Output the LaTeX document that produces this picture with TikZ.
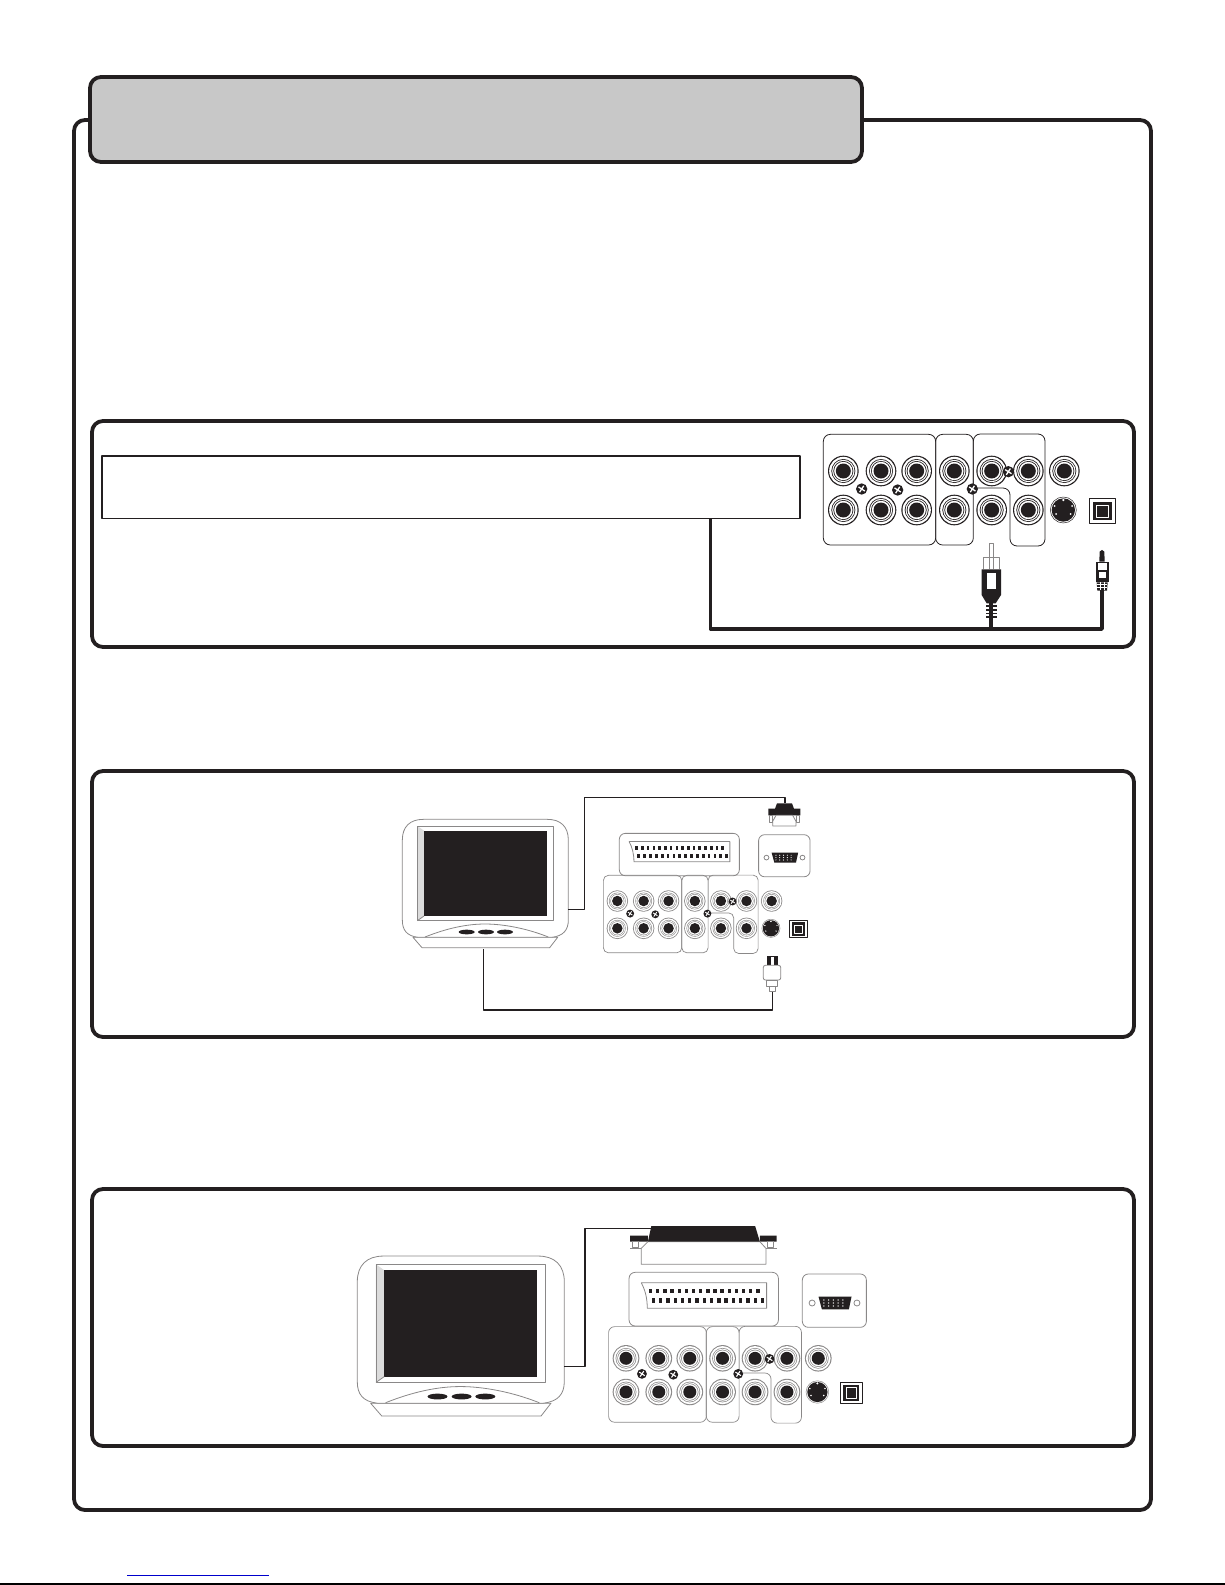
\documentclass[tikz,border=0pt]{standalone}
\definecolor{ink}{HTML}{231F20}
\definecolor{tabgrey}{HTML}{C8C8C8}
\definecolor{softline}{HTML}{8A8888}
\definecolor{paleband}{HTML}{DCDCDC}
\definecolor{linkblue}{HTML}{0000CC}
\tikzset{
  frameline/.style={draw=ink,line width=3.8pt,rounded corners=11pt},
  cable/.style={draw=ink,line width=1.3pt},
  heavycable/.style={draw=ink,line width=3.4pt},
  softedge/.style={draw=softline,line width=0.8pt}
}
% #1 ring colour, #2 outline colour, #3 corner radius, #4 outline width, #5 screw cross width
\newcommand{\jackcluster}[5]{%
  \draw[#2,line width=#4,rounded corners=#3] (70,73) rectangle (407,405);
  \draw[#2,line width=#4,rounded corners=#3] (407,73) rectangle (520,405);
  \draw[#2,line width=#4,rounded corners=#3] (520,237) -- (520,72) -- (735,72) -- (735,408) -- (630,408) -- (630,234) -- (520,234);
  \foreach \jx/\jy in {130/183,243/183,350/183,463/183,575/183,685/183,793/183,130/300,243/300,350/300,463/300,575/300,685/300}{
    \fill[#1] (\jx,\jy) circle (46);
    \fill[white] (\jx,\jy) circle (42.5);
    \fill[#1] (\jx,\jy) circle (36);
    \fill[white] (\jx,\jy) circle (33.5);
    \fill[#1] (\jx,\jy) circle (30);
    \fill[white] (\jx,\jy) circle (27.5);
    \fill[ink] (\jx,\jy) circle (22.5);
  }
  \foreach \sx/\sy in {185/237,293/240,517/237,625/185}{
    \fill[ink] (\sx,\sy) circle (17);
    \draw[white,line width=#5,rotate around={12:(\sx,\sy)}] (\sx-8,\sy-8) -- (\sx+8,\sy+8) (\sx-8,\sy+8) -- (\sx+8,\sy-8);
  }
  \draw[#1,line width=0.5pt] (790,300) circle (39);
  \fill[ink] (790,300) circle (35);
  \fill[white] (790,270) circle (4) (764,288) circle (3) (816,288) circle (3) (768,312) circle (3) (812,312) circle (3);
  \draw[ink,line width=0.8pt,fill=white] (868,265) rectangle (946,340);
  \fill[ink] (879,275) rectangle (935,331);
  \draw[white,line width=0.6pt] (889,285) rectangle (925,321);
}
\newcommand{\scartvga}{%
  \draw[softedge,rounded corners=6pt] (824,187) rectangle (1267,348);
  \draw[softedge,rounded corners=6pt] (1338,192) rectangle (1528,352);
  \draw[softedge] (860,218) -- (1232,218) -- (1232,295) -- (878,295) .. controls (878,265) and (872,240) .. (860,218);
  \foreach \i in {0,...,15}{
    \fill[ink] ({883+\i*21.2},236) rectangle ++(10,14);
    \fill[ink] ({891+\i*21.6},265) rectangle ++(10,14);
  }
  \fill[ink] (1386,260) -- (1484,260) -- (1476,298) -- (1396,298) -- cycle;
  \foreach \i in {0,...,4}{
    \fill[white] ({1402+\i*14},270) circle (2.2);
    \fill[white] ({1402+\i*14},279) circle (2.2);
    \fill[white] ({1402+\i*14},288) circle (2.2);
  }
  \draw[softedge] (1367,279) circle (9) (1500,279) circle (9);
}
\newcommand{\monitorset}{%
  \draw[softedge,fill=white] (69,472) -- (96,503) -- (479,503) -- (503,472) -- cycle;
  \draw[softedge,fill=white] (37,420) -- (37,180) .. controls (37,140) and (60,118) .. (100,118) -- (472,118) .. controls (512,118) and (535,140) .. (535,180) -- (535,420) .. controls (535,450) and (520,468) .. (485,472) -- (85,472) .. controls (50,468) and (37,450) .. (37,420) -- cycle;
  \draw[softedge] (105,471) .. controls (170,445) and (230,432) .. (285,432) .. controls (340,432) and (410,445) .. (475,471);
  \fill[paleband] (82,138) -- (102,152) -- (102,408) -- (82,422) -- cycle;
  \draw[softedge] (82,138) rectangle (490,422);
  \fill[ink] (102,152) rectangle (470,408);
  \draw[softedge] (82,422) -- (102,408);
  \fill[ink] (230,456) ellipse (24 and 7) (288,456) ellipse (24 and 7) (345,456) ellipse (24 and 7);
}
\begin{document}
\begin{tikzpicture}[x=1pt,y=-1pt,line join=round]
\useasboundingbox (0,0) rectangle (1225,1585);
% outer frame and title tab
\draw[frameline] (74,120) rectangle (1151,1510);
\draw[frameline,fill=tabgrey] (90,77) rectangle (862,162);
% panels
\draw[frameline] (92,421) rectangle (1134,647);
\draw[frameline] (92,771) rectangle (1134,1037);
\draw[frameline] (92,1189) rectangle (1134,1446);
\draw[ink,line width=1.6pt] (102,456) rectangle (800,518.5);

% ---------- panel 1 ----------
\begin{scope}[shift={(800,410)},x=0.33333pt,y=-0.33333pt]
  \jackcluster{ink}{ink}{7pt}{0.8pt}{1.3pt}
  \coordinate (rcaEnd) at (573,625);
  \coordinate (optEnd) at (906,540);
  \coordinate (busRight) at (906,657);
  \coordinate (busJoin) at (573,657);
  % RCA plug
  \draw[softedge,fill=white] (567,440) -- (567,400) -- (581,400) -- (581,440);
  \draw[softedge] (550,478) -- (550,442) -- (598,442) -- (598,478) (567,440) -- (567,478) (581,440) -- (581,478);
  \fill[ink] (545,478) -- (603,478) -- (603,555) -- (587,580) -- (560,580) -- (545,555) -- cycle;
  \fill[white] (562,488) rectangle (587,537);
  \fill[ink] (567,580) rectangle (580,625);
  \foreach \ry in {586,597,608,619}{\fill[ink] (557,\ry) rectangle (590,\ry+5);}
  % optical plug
  \fill[ink] (898,455) -- (899,425) .. controls (901,418) and (911,418) .. (913,425) -- (914,455) -- cycle;
  \fill[ink] (887,455) rectangle (927,517);
  \fill[white] (895,458) rectangle (920,480);
  \fill[white] (897,485) rectangle (917,505);
  \fill[ink] (890,517) -- (923,517) -- (921,542) -- (892,542) -- cycle;
  \foreach \ry in {522,531}{\draw[white,line width=0.5pt] (892,\ry) -- (921,\ry);}
  \draw[white,line width=0.5pt] (900,517) -- (900,540) (912,517) -- (912,540);
\end{scope}
\coordinate (boxFoot) at (710.5,518.5);
\draw[heavycable] (rcaEnd) -- (busJoin);
\draw[heavycable] (boxFoot) |- (busRight) -- (optEnd);

% ---------- panel 2 ----------
\begin{scope}[shift={(587.1,858.3)},x=0.2327pt,y=-0.2333pt]
  \jackcluster{softline}{softline}{5pt}{0.7pt}{0.9pt}
\end{scope}
\begin{scope}[shift={(396,784.2)},x=0.271pt,y=-0.263pt]
  \scartvga
\end{scope}
\begin{scope}[shift={(390,780)},x=0.33333pt,y=-0.33333pt]
  \monitorset
  \coordinate (monOutA) at (535,388);
  \coordinate (monOutB) at (280,507);
  \coordinate (vgaPlugTop) at (1185,70);
  \coordinate (sPlugEnd) at (1148,635);
  \coordinate (upperRun) at (583,53);
  \coordinate (lowerRun) at (280,690);
  % VGA plug
  \fill[ink] (1161,70) -- (1206,70) -- (1212,86) -- (1231,86) -- (1231,106) -- (1135,106) -- (1135,86) -- (1155,86) -- cycle;
  \draw[softedge,fill=white] (1158,106) -- (1148,124) -- (1148,138) -- (1218,138) -- (1218,124) -- (1208,106) -- cycle;
  \draw[softedge,fill=white] (1138,106) rectangle (1146,126) (1220,106) rectangle (1228,126);
  % S-video plug
  \fill[ink] (1130,527) rectangle (1163,556);
  \fill[white] (1142,530) rectangle (1151,556);
  \draw[softedge,fill=white,rounded corners=2pt] (1120,556) rectangle (1172,600);
  \draw[softedge,fill=white] (1130,600) rectangle (1162,618);
  \draw[softedge,fill=white] (1138,618) rectangle (1156,635);
\end{scope}
\draw[cable] (monOutA) -| (upperRun) -| (vgaPlugTop);
\draw[cable] (monOutB) |- (lowerRun) -| (sPlugEnd);

% ---------- panel 3 ----------
\begin{scope}[shift={(588.3,1305.6)},x=0.29pt,y=-0.288pt]
  \jackcluster{softline}{softline}{6pt}{0.7pt}{1.1pt}
\end{scope}
\begin{scope}[shift={(341.9,1207)},x=0.4157pt,y=-0.4156pt]
  \monitorset
\end{scope}
\begin{scope}[shift={(351.3,1210)},x=0.3371pt,y=-0.33333pt]
  \scartvga
  \coordinate (monOutC) at (632,470);
  \coordinate (scartPlugTop) at (889,55);
  \coordinate (run3) at (693,470);
  % SCART plug
  \fill[ink] (827,77) rectangle (880,95) (1212,77) rectangle (1262,95);
  \draw[softedge,fill=white] (835,95) rectangle (853,113) (1235,95) rectangle (1253,113);
  \draw[softedge] (827,115) -- (860,115) (1230,115) -- (1262,115);
  \draw[softedge,fill=white] (880,95) -- (860,115) -- (860,163) -- (1230,163) -- (1230,115) -- (1212,95) -- cycle;
  \fill[ink] (880,95) -- (890,48) -- (1198,48) -- (1212,95) -- cycle;
\end{scope}
\draw[cable] (monOutC) -- (run3) |- (scartPlugTop);

% footer rules
\coordinate (linkL) at (127,1575);
\coordinate (linkR) at (269,1575);
\coordinate (ruleL) at (0,1584);
\coordinate (ruleR) at (1225,1584);
\draw[linkblue,line width=1pt] (linkL) -- (linkR);
\draw[black,line width=1.2pt] (ruleL) -- (ruleR);
\end{tikzpicture}
\end{document}
